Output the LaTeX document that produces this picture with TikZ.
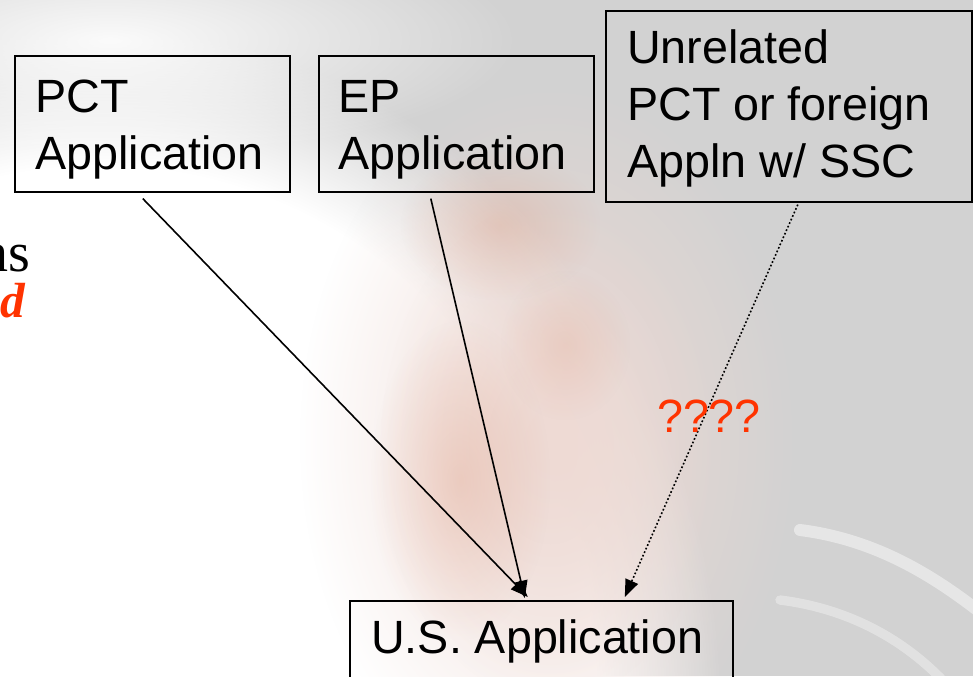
\documentclass[tikz,border=0pt]{standalone}
\usepackage{fontspec}
\setmainfont{Liberation Sans}
\newfontfamily\serifface{Liberation Serif}
\usetikzlibrary{arrows.meta,calc,fadings}
\definecolor{bggray}{RGB}{210,210,210}
\definecolor{qred}{RGB}{255,51,0}
\definecolor{blush}{RGB}{238,218,212}
\definecolor{rust}{RGB}{225,160,135}
\tikzfading[name=softblob, inner color=transparent!0, outer color=transparent!100]
\tikzset{
  appbox/.style={draw=black, line width=1.2pt, anchor=north west, inner sep=0pt},
  boxlabel/.style={anchor=north west, inner sep=0pt, align=left,
    font=\fontsize{35}{43}\selectfont},
  link/.style={line width=1.2pt, -{Triangle[length=13pt,width=10pt]}},
  maybe/.style={link, dash pattern=on 1.3pt off 1.6pt},
  fuzzy/.style={path fading=circle with fuzzy edge 20 percent},
  soft/.style={path fading=softblob},
}
\newcommand{\topstrut}{\rule{0pt}{28pt}}
\begin{document}
\begin{tikzpicture}[x=0.75pt,y=-0.75pt]
\useasboundingbox (0,0) rectangle (973,676);
\clip (0,0) rectangle (973,676);
% background
\fill[bggray] (0,0) rectangle (973,676);
\fill[white, fuzzy] (-520,30) rectangle (720,1400);
\fill[white, soft, opacity=0.9] (-300,-80) rectangle (520,160);
\fill[blush, soft] (300,80) rectangle (800,800);
\fill[blush, soft, opacity=0.8] (380,200) rectangle (720,700);
\fill[rust, soft, opacity=0.35] (400,150) rectangle (600,300);
\fill[rust, soft, opacity=0.35] (370,320) rectangle (550,640);
\fill[rust, soft, opacity=0.25] (500,270) rectangle (630,420);
\draw[white, line width=9pt, opacity=0.45, line cap=round] (800,530) .. controls (880,540) and (940,580) .. (990,620);
\draw[white, line width=7pt, opacity=0.35, line cap=round] (780,600) .. controls (860,610) and (920,650) .. (960,700);
% boxes
\node[appbox, minimum width=206.25pt, minimum height=102pt] (pct) at (14,55) {};
\node[appbox, minimum width=206.25pt, minimum height=102pt] (ep) at (318,55) {};
\node[appbox, minimum width=274.5pt, minimum height=143.25pt] (unrel) at (605,10) {};
\node[appbox, minimum width=287.25pt, minimum height=90pt] (us) at (349,600) {};
% labels
\node[boxlabel] (pcttxt) at (35,74.7) {\topstrut PCT\\Application};
\node[boxlabel] (eptxt) at (338,74.7) {\topstrut EP\\Application};
\node[boxlabel] (unreltxt) at (627,25.7) {\topstrut Unrelated\\PCT or foreign\\Appln w/ SSC};
\node[boxlabel] (ustxt) at (371,615.7) {\topstrut U.S. Application};
% connectors
\draw[link] ($(pct.south)+(-9.5,6)$) -- ($(us.north)+(-13.5,-3)$);
\draw[link] ($(ep.south)+(-25.5,6)$) -- ($(us.north)+(-16.5,-2)$);
\draw[maybe] ($(unrel.south)+(9,2)$) -- ($(us.north)+(83.5,-3)$);
\node[anchor=base, text=qred, font=\fontsize{35}{35}\selectfont] (qq) at (709,432) {????};
% clipped side text
\node[anchor=base east, inner sep=0pt, font=\serifface\fontsize{42}{42}\selectfont] (ns) at (31,271) {ns};
\node[anchor=base east, inner sep=0pt, text=qred, font=\serifface\bfseries\itshape\fontsize{37}{37}\selectfont] (dd) at (25,317) {d};
\end{tikzpicture}
\end{document}
